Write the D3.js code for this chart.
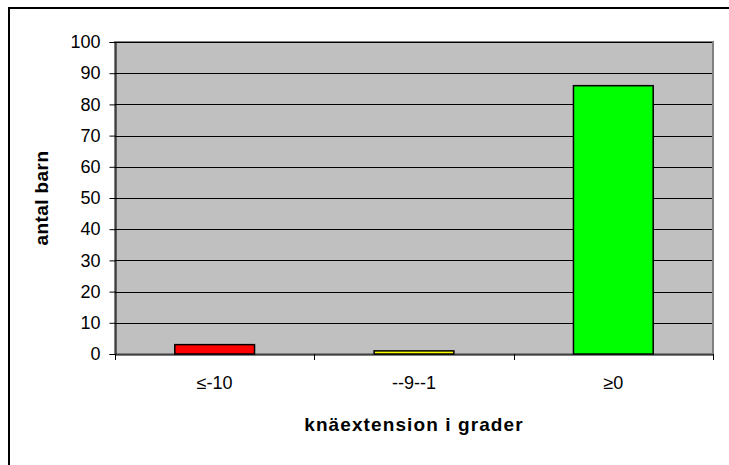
<!DOCTYPE html>
<html><head><meta charset="utf-8">
<script src="https://cdn.jsdelivr.net/npm/d3@7"></script>
<style>body{margin:0;background:#fff;overflow:hidden;} svg{display:block;font-family:"Liberation Sans",Arial,sans-serif;}</style>
</head><body>
<svg id="c" width="729" height="465"></svg>
<script>
const categories = ["≤-10", "--9--1", "≥0"];
const values = [3, 1, 86];
const colors = ["#ff0000", "#ffff00", "#00ff00"];
const yTicks = [0,10,20,30,40,50,60,70,80,90,100];

const svg = d3.select("#c");
const m = {left:115, top:42, right:713, bottom:354};
// outer frame (right/bottom edges fall outside the picture)
svg.append("rect").attr("x",9).attr("y",8).attr("width",740).attr("height",480)
  .attr("fill","#fff").attr("stroke","#000").attr("stroke-width",2);

const x = d3.scaleBand().domain(categories).range([m.left,m.right]).paddingInner(0).paddingOuter(0);
const y = d3.scaleLinear().domain([0,100]).range([m.bottom,m.top]);

svg.append("rect").attr("x",m.left).attr("y",m.top).attr("width",m.right-m.left).attr("height",m.bottom-m.top)
  .attr("fill","#c0c0c0").attr("stroke","#808080").attr("stroke-width",2);

svg.append("g").selectAll("line").data(yTicks.filter(d=>d>0)).join("line")
  .attr("x1",m.left).attr("x2",m.right-1).attr("y1",d=>Math.round(y(d))+0.5).attr("y2",d=>Math.round(y(d))+0.5)
  .attr("stroke","#000").attr("stroke-width",1);

const bw = x.bandwidth()*0.4;
svg.append("g").selectAll("rect").data(values).join("rect")
  .attr("x",(d,i)=>x(categories[i])+x.bandwidth()/2-bw/2)
  .attr("y",d=>y(d)).attr("width",bw).attr("height",d=>y(0)-y(d))
  .attr("fill",(d,i)=>colors[i]).attr("stroke","#000").attr("stroke-width",1.5);

const ya = svg.append("g").attr("transform",`translate(${m.left+0.5},0)`)
  .call(d3.axisLeft(y).tickValues(yTicks).tickSize(6).tickPadding(9));
ya.selectAll("text").attr("font-size",18).attr("font-family","Liberation Sans, Arial").attr("fill","#000");
ya.select(".domain").attr("stroke","#000");
ya.selectAll(".tick line").attr("stroke","#000");

const xa = svg.append("g").attr("transform",`translate(0,${m.bottom+0.5})`)
  .call(d3.axisBottom(x).tickSize(0).tickPadding(22));
xa.select(".domain").attr("stroke","#000");
xa.selectAll("text").attr("font-size",18).attr("font-family","Liberation Sans, Arial").attr("fill","#000");
const bounds = [m.left, ...categories.map(c=>x(c)+x.bandwidth())];
svg.append("g").selectAll("line").data(bounds).join("line")
  .attr("x1",d=>Math.round(d)+0.5).attr("x2",d=>Math.round(d)+0.5).attr("y1",m.bottom).attr("y2",m.bottom+6)
  .attr("stroke","#000");

svg.append("text").attr("x",(m.left+m.right)/2+0).attr("y",431).attr("text-anchor","middle")
  .attr("font-size",19).attr("font-weight","bold").attr("letter-spacing",1.1).text("knäextension i grader");
svg.append("text").attr("transform",`translate(48,198) rotate(-90)`).attr("text-anchor","middle")
  .attr("font-size",19).attr("font-weight","bold").attr("letter-spacing",0.4).text("antal barn");
</script>
</body></html>
